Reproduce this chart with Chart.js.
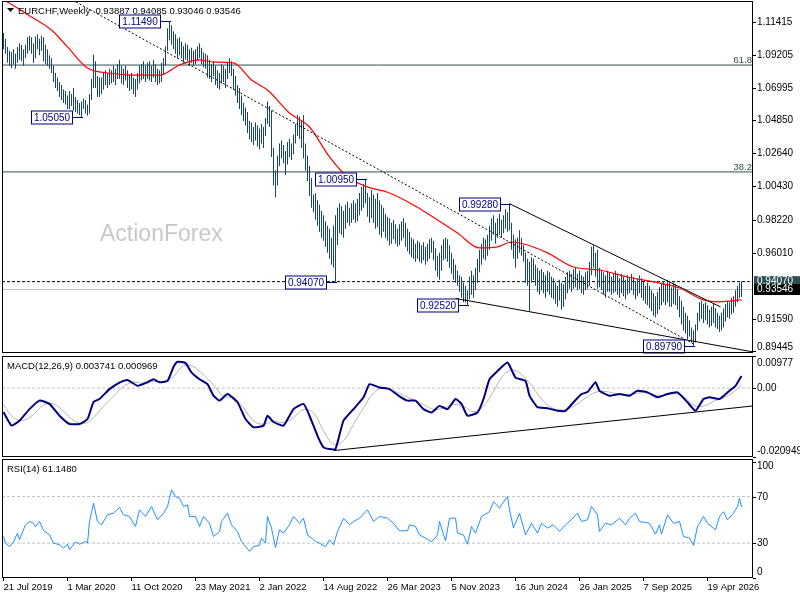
<!DOCTYPE html>
<html>
<head>
<title>EURCHF Weekly</title>
<script src="https://cdn.jsdelivr.net/npm/chart.js"></script>
<style>
  html, body { margin: 0; padding: 0; background: #fff; }
  #wrap { position: relative; width: 800px; height: 600px; overflow: hidden; }
  #wrap canvas { position: absolute; left: 0; }
</style>
</head>
<body>
<div id="wrap">
  <canvas id="priceChart" width="800" height="355" style="top:0px"></canvas>
  <canvas id="macdChart" width="800" height="103" style="top:355px"></canvas>
  <canvas id="rsiChart" width="800" height="142" style="top:458px"></canvas>
</div>
<script>
const FONT = "'Liberation Sans', Arial, sans-serif";

// date labels, one every 32 weekly bars from the first bar
const dateTicks = ['21 Jul 2019', '1 Mar 2020', '11 Oct 2020', '23 May 2021', '2 Jan 2022', '14 Aug 2022',
  '26 Mar 2023', '5 Nov 2023', '16 Jun 2024', '26 Jan 2025', '7 Sep 2025', '19 Apr 2026'];
const tickStep = 32;

// weekly highs / lows, bar 0 = 21 Jul 2019
const highs = [
  1.1068,1.1030,1.0975,1.0950,1.0940,1.0960,1.0930,1.0975,1.1000,1.0990,
  1.0960,1.0990,1.1040,1.1050,1.1040,1.1000,1.1045,1.1060,1.1030,1.1050,
  1.1040,1.0990,1.0960,1.0920,1.0900,1.0850,1.0800,1.0770,1.0740,1.0720,
  1.0690,1.0680,1.0650,1.0680,1.0660,1.0700,1.0640,1.0620,1.0600,1.0610,
  1.0630,1.0620,1.0590,1.0660,1.0760,1.0922,1.0880,1.0780,1.0770,1.0770,
  1.0800,1.0820,1.0800,1.0830,1.0820,1.0850,1.0830,1.0860,1.0890,1.0850,
  1.0830,1.0850,1.0820,1.0790,1.0800,1.0770,1.0760,1.0800,1.0850,1.0860,
  1.0880,1.0850,1.0870,1.0880,1.0850,1.0890,1.0860,1.0830,1.0820,1.0870,
  1.0900,1.0980,1.1100,1.1149,1.1120,1.1080,1.1060,1.1030,1.1040,1.1010,
  1.0980,1.1000,1.0990,1.0960,1.0970,1.0950,1.0960,1.0980,1.1000,1.0970,
  1.0940,1.0930,1.0920,1.0890,1.0860,1.0880,1.0850,1.0820,1.0800,1.0860,
  1.0850,1.0830,1.0870,1.0900,1.0880,1.0830,1.0780,1.0720,1.0700,1.0650,
  1.0600,1.0570,1.0540,1.0480,1.0470,1.0440,1.0470,1.0450,1.0430,1.0460,
  1.0440,1.0500,1.0610,1.0580,1.0550,1.0300,1.0150,1.0250,1.0330,1.0350,
  1.0320,1.0280,1.0340,1.0360,1.0330,1.0390,1.0460,1.0520,1.0510,1.0480,
  1.0521,1.0330,1.0250,1.0180,1.0100,0.9990,1.0000,0.9950,0.9920,0.9880,
  0.9850,0.9810,0.9780,0.9760,0.9700,0.9780,0.9850,0.9900,0.9930,0.9910,
  0.9880,0.9920,0.9940,0.9900,0.9930,0.9950,0.9930,0.9960,1.0000,1.0040,
  1.0060,1.0095,1.0000,0.9970,1.0020,0.9990,0.9960,1.0000,0.9950,0.9920,
  0.9900,0.9860,0.9840,0.9830,0.9800,0.9820,0.9790,0.9760,0.9790,0.9810,
  0.9830,0.9800,0.9760,0.9740,0.9700,0.9690,0.9660,0.9680,0.9670,0.9650,
  0.9670,0.9640,0.9660,0.9690,0.9700,0.9680,0.9630,0.9580,0.9600,0.9650,
  0.9690,0.9700,0.9690,0.9650,0.9600,0.9560,0.9520,0.9480,0.9450,0.9440,
  0.9400,0.9380,0.9350,0.9440,0.9480,0.9450,0.9500,0.9560,0.9620,0.9660,
  0.9700,0.9690,0.9720,0.9780,0.9830,0.9850,0.9800,0.9830,0.9860,0.9820,
  0.9850,0.9890,0.9870,0.9928,0.9800,0.9720,0.9690,0.9700,0.9750,0.9700,
  0.9650,0.9600,0.9560,0.9540,0.9570,0.9560,0.9520,0.9500,0.9480,0.9490,
  0.9470,0.9450,0.9480,0.9470,0.9440,0.9430,0.9400,0.9380,0.9420,0.9400,
  0.9390,0.9440,0.9470,0.9480,0.9460,0.9490,0.9500,0.9460,0.9480,0.9450,
  0.9440,0.9470,0.9480,0.9540,0.9640,0.9650,0.9600,0.9620,0.9500,0.9480,
  0.9470,0.9450,0.9480,0.9470,0.9440,0.9460,0.9480,0.9450,0.9430,0.9460,
  0.9440,0.9420,0.9450,0.9440,0.9460,0.9440,0.9410,0.9430,0.9450,0.9430,
  0.9410,0.9380,0.9400,0.9380,0.9350,0.9330,0.9310,0.9340,0.9370,0.9400,
  0.9410,0.9390,0.9420,0.9400,0.9370,0.9400,0.9390,0.9360,0.9310,0.9280,
  0.9240,0.9200,0.9180,0.9150,0.9100,0.9080,0.9120,0.9200,0.9270,0.9280,
  0.9260,0.9270,0.9250,0.9220,0.9240,0.9260,0.9230,0.9200,0.9180,0.9200,
  0.9230,0.9260,0.9280,0.9270,0.9300,0.9310,0.9350,0.9380,0.9400,0.94085
];
const lows = [
  1.0960,1.0930,1.0870,1.0850,1.0835,1.0860,1.0830,1.0870,1.0890,1.0880,
  1.0850,1.0900,1.0930,1.0950,1.0930,1.0870,1.0900,1.0960,1.0920,1.0950,
  1.0880,1.0860,1.0850,1.0830,1.0800,1.0740,1.0700,1.0680,1.0640,1.0620,
  1.0600,1.0590,1.0560,1.0560,1.0580,1.0550,1.0540,1.0530,1.0520,1.0505,
  1.0560,1.0530,1.0515,1.0530,1.0620,1.0700,1.0700,1.0640,1.0640,1.0660,
  1.0690,1.0720,1.0700,1.0720,1.0730,1.0740,1.0720,1.0760,1.0760,1.0730,
  1.0720,1.0750,1.0700,1.0680,1.0690,1.0660,1.0640,1.0690,1.0730,1.0750,
  1.0760,1.0740,1.0760,1.0750,1.0740,1.0770,1.0740,1.0720,1.0730,1.0740,
  1.0790,1.0850,1.0950,1.1020,1.0990,1.0960,1.0930,1.0900,1.0920,1.0900,
  1.0870,1.0890,1.0880,1.0850,1.0870,1.0850,1.0860,1.0880,1.0900,1.0860,
  1.0840,1.0830,1.0770,1.0760,1.0740,1.0780,1.0720,1.0700,1.0690,1.0730,
  1.0740,1.0700,1.0760,1.0800,1.0780,1.0690,1.0650,1.0600,1.0560,1.0520,
  1.0480,1.0450,1.0400,1.0360,1.0340,1.0320,1.0350,1.0310,1.0290,1.0330,
  1.0300,1.0380,1.0460,1.0440,1.0240,1.0050,0.9971,1.0050,1.0180,1.0230,
  1.0200,1.0120,1.0190,1.0240,1.0220,1.0260,1.0330,1.0380,1.0360,1.0300,
  1.0230,1.0150,1.0080,0.9980,0.9900,0.9870,0.9820,0.9780,0.9740,0.9700,
  0.9680,0.9640,0.9600,0.9560,0.9520,0.9500,0.9407,0.9650,0.9730,0.9720,
  0.9700,0.9760,0.9800,0.9780,0.9800,0.9820,0.9800,0.9810,0.9850,0.9880,
  0.9900,0.9930,0.9840,0.9800,0.9830,0.9800,0.9760,0.9770,0.9720,0.9700,
  0.9740,0.9700,0.9680,0.9650,0.9660,0.9690,0.9660,0.9640,0.9650,0.9680,
  0.9700,0.9640,0.9610,0.9590,0.9570,0.9560,0.9540,0.9560,0.9540,0.9530,
  0.9550,0.9520,0.9540,0.9560,0.9600,0.9550,0.9480,0.9440,0.9420,0.9480,
  0.9550,0.9560,0.9540,0.9500,0.9460,0.9420,0.9400,0.9380,0.9340,0.9300,
  0.9270,0.9270,0.9252,0.9290,0.9320,0.9300,0.9350,0.9400,0.9470,0.9520,
  0.9560,0.9550,0.9580,0.9620,0.9680,0.9720,0.9660,0.9700,0.9720,0.9700,
  0.9730,0.9760,0.9740,0.9750,0.9620,0.9560,0.9500,0.9560,0.9600,0.9580,
  0.9540,0.9400,0.9380,0.9210,0.9400,0.9420,0.9380,0.9340,0.9320,0.9350,
  0.9330,0.9300,0.9340,0.9320,0.9300,0.9290,0.9260,0.9240,0.9280,0.9220,
  0.9240,0.9290,0.9330,0.9360,0.9340,0.9360,0.9370,0.9350,0.9360,0.9330,
  0.9320,0.9350,0.9360,0.9380,0.9450,0.9500,0.9440,0.9360,0.9370,0.9350,
  0.9320,0.9300,0.9340,0.9340,0.9320,0.9330,0.9340,0.9320,0.9300,0.9330,
  0.9310,0.9290,0.9320,0.9330,0.9350,0.9320,0.9290,0.9310,0.9330,0.9300,
  0.9280,0.9260,0.9250,0.9230,0.9210,0.9180,0.9170,0.9190,0.9220,0.9250,
  0.9270,0.9250,0.9270,0.9240,0.9240,0.9260,0.9250,0.9220,0.9170,0.9120,
  0.9080,0.9060,0.9020,0.9040,0.9000,0.8979,0.9000,0.9080,0.9140,0.9160,
  0.9130,0.9150,0.9120,0.9100,0.9110,0.9130,0.9100,0.9090,0.9070,0.9080,
  0.9100,0.9140,0.9170,0.9160,0.9190,0.9200,0.9240,0.9270,0.9300,0.93046
];

// red moving average, [bar, value]
const maPoints = [[0,1.1290],[2,1.1275],[14,1.1175],[24,1.1088],[32,1.0975],[42,1.0834],[52,1.0801],
  [65,1.0787],[78,1.0787],[88,1.0854],[98,1.0888],[105,1.0874],[115,1.0868],[124,1.0754],[132,1.0687],
  [143,1.0534],[153,1.0440],[163,1.0240],[172,1.0106],[182,1.0040],[193,0.9999],[205,0.9919],[217,0.9819],
  [227,0.9732],[238,0.9632],[247,0.9639],[254,0.9672],[262,0.9652],[272,0.9599],[285,0.9505],[298,0.9485],
  [312,0.9438],[325,0.9405],[338,0.9365],[350,0.9285],[358,0.9272],[369,0.9285]];

const macdPoints = [[0,-0.0073],[4,-0.0114],[8,-0.0099],[13,-0.0064],[18,-0.0038],[23,-0.0048],[28,-0.0084],
  [33,-0.0109],[38,-0.0109],[42,-0.0094],[45,-0.0042],[48,-0.0033],[53,-0.0003],[58,0.0017],[62,0.0025],
  [67,0.0007],[72,0.0018],[75,0.0027],[78,0.0018],[82,0.0022],[85,0.0064],[87,0.0080],[91,0.0076],
  [94,0.0048],[98,0.0027],[102,0.0012],[105,-0.0023],[108,-0.0038],[112,-0.0018],[117,-0.0043],
  [121,-0.0094],[125,-0.0119],[130,-0.0114],[132,-0.0084],[135,-0.0103],[140,-0.0114],[145,-0.0064],
  [150,-0.0048],[153,-0.0084],[157,-0.0145],[160,-0.0180],[163,-0.0185],[166,-0.0185],[170,-0.0099],
  [175,-0.0064],[180,-0.0028],[183,0.0012],[188,0.0002],[193,-0.0003],[198,-0.0025],[202,-0.0038],
  [206,-0.0038],[210,-0.0064],[214,-0.0074],[218,-0.0054],[222,-0.0064],[226,-0.0033],[229,-0.0048],
  [232,-0.0084],[237,-0.0074],[240,-0.0033],[243,0.0027],[247,0.0052],[252,0.0078],[256,0.0032],
  [261,0.0022],[263,-0.0023],[267,-0.0058],[272,-0.0061],[277,-0.0069],[281,-0.0069],[285,-0.0043],
  [289,-0.0018],[292,-0.0012],[296,0.0018],[298,-0.0008],[303,-0.0023],[308,-0.0018],[313,-0.0023],
  [317,-0.0008],[322,-0.0013],[327,-0.0028],[332,-0.0018],[337,-0.0013],[342,-0.0043],[346,-0.0069],
  [350,-0.0033],[353,-0.0028],[358,-0.0033],[363,-0.0008],[366,0.0007],[369,0.0037]];

const signalPoints = [[0,-0.0050],[5,-0.0090],[10,-0.0098],[15,-0.0080],[20,-0.0052],[25,-0.0048],[30,-0.0070],
  [35,-0.0098],[40,-0.0108],[45,-0.0090],[50,-0.0055],[55,-0.0025],[60,0.0005],[65,0.0018],[70,0.0015],
  [75,0.0020],[80,0.0021],[85,0.0035],[90,0.0068],[95,0.0065],[100,0.0040],[105,0.0010],[110,-0.0025],
  [115,-0.0030],[120,-0.0060],[125,-0.0100],[130,-0.0110],[135,-0.0100],[140,-0.0105],[145,-0.0090],
  [150,-0.0065],[155,-0.0075],[160,-0.0130],[165,-0.0170],[170,-0.0160],[175,-0.0110],[180,-0.0060],
  [185,-0.0015],[190,0.0002],[195,-0.0008],[200,-0.0022],[205,-0.0035],[210,-0.0050],[215,-0.0065],
  [220,-0.0060],[225,-0.0050],[230,-0.0055],[235,-0.0072],[240,-0.0055],[245,-0.0010],[250,0.0040],
  [255,0.0055],[260,0.0035],[265,0.0000],[270,-0.0040],[275,-0.0062],[280,-0.0066],[285,-0.0055],
  [290,-0.0035],[295,-0.0015],[300,-0.0010],[305,-0.0015],[310,-0.0020],[315,-0.0018],[320,-0.0014],
  [325,-0.0020],[330,-0.0022],[335,-0.0017],[340,-0.0025],[345,-0.0052],[350,-0.0055],[355,-0.0040],
  [360,-0.0030],[365,-0.0012],[369,0.00097]];

const rsiPoints = [[0,35.7],[1,30],[3,27],[5,31],[7,38.6],[8,33],[11,45.7],[13,48.6],[15,47],[16,44],[18,48.6],
  [20,41],[23,37],[25,30],[28,28.6],[30,25.7],[32,29],[33,24.3],[36,31],[38,29],[41,31.4],[42,30],[43,48.6],
  [45,64.3],[47,48.6],[49,45.7],[52,54.3],[55,55.7],[58,60.6],[60,54.3],[63,52.9],[66,44.3],[68,58.6],
  [71,52.9],[74,61.4],[77,50],[80,55.7],[82,61.4],[84,75.7],[86,70],[88,68.6],[90,61.4],[92,62.9],[93,52.9],
  [96,52.9],[98,44.3],[100,52.9],[103,47],[105,35.7],[108,40],[109,48.6],[112,55.7],[114,45.7],[117,40],
  [119,31.4],[123,22.9],[125,27],[128,28],[129,34.3],[131,30],[132,52.9],[134,42.9],[136,26.3],[138,41.4],
  [140,38.6],[143,45.7],[145,52.9],[148,47],[150,51.4],[152,37],[156,31.4],[158,30],[161,27],[163,32.9],
  [165,28.6],[167,40],[170,51.4],[173,45.7],[175,48.6],[178,51.4],[182,58.6],[185,48.6],[188,52.9],
  [192,51.4],[195,47],[198,40.5],[202,40.6],[203,45.7],[206,44.3],[208,37],[211,34.3],[214,31],[217,37],
  [218,48.6],[221,32],[223,51.4],[226,51.4],[227,38.6],[230,37],[232,29],[234,44.3],[236,38.6],[239,52.9],
  [243,57],[245,65.7],[248,60],[249,62.9],[252,70],[253,58.6],[255,42.9],[258,55.7],[261,37],[264,47],
  [267,38.6],[269,47],[272,42.9],[275,45.7],[278,40],[281,45.7],[283,48.6],[287,55.7],[289,48.6],[292,50],
  [294,61.4],[297,54.3],[298,40],[301,47],[304,45.7],[308,51.4],[311,45.7],[313,51.4],[316,55.7],[318,48.6],
  [323,47],[326,37.7],[328,45.7],[329,37.7],[332,54.3],[335,47],[338,48.6],[340,35.7],[343,34.3],[345,28],
  [347,44.3],[350,52.9],[352,47],[356,41.4],[358,52.9],[360,57],[362,50],[365,55.7],[367,61.4],[368,68.6],
  [369,61.1]];

// axis labels
const priceTicks = [1.11415, 1.09205, 1.06995, 1.04850, 1.02640, 1.00430, 0.98220, 0.96010, 0.91590, 0.89445];
const macdTicks = [0.00977, 0.00, -0.020949];
const macdTickText = ['0.00977', '0.00', '-0.020949'];
const rsiTicks = [100, 70, 30, 0];
const rsiLevels = [70, 30];

// levels, swing labels and last values
const fibLevels = [1.0854, 1.0140];
const fibNames = ['61.8', '38.2'];
const swingIdx = [83, 39, 181, 166, 232, 253, 345];
const swingPrice = [1.11490, 1.05050, 1.00950, 0.94070, 0.92520, 0.99280, 0.89790];
const lastOHLC = [0.93887, 0.94085, 0.93046, 0.93546];
const resistance = 0.94070;
const macdLast = [0.003741, 0.000969];
const rsiLast = 61.1480;

// trend lines, [bar, value]
const trendFalling = [[34.5, 1.12885], [345, 0.89906]];
const trendUpper = [[253, 0.99280], [358.5, 0.92380]];
const trendLower = [[226, 0.92950], [375, 0.89370]];
const trendMacd = [[165, -0.0190], [375, -0.0054]];

const xRange = [-0.75, 374.75];
const priceRange = [0.89304, 1.12818];
const macdRange = [-0.020949, 0.00977];
const rsiRange = [0, 102.3];

const pts = arr => arr.map(([x, y]) => ({ x, y }));
const hline = v => [{ x: xRange[0], y: v }, { x: xRange[1], y: v }];

function lineSet(data, color, width, dash) {
  return { type: 'line', data, borderColor: color, borderWidth: width, borderDash: dash || [],
    pointRadius: 0, tension: 0, fill: false };
}

// frame, right hand labels and caption of a panel
const panelFrame = {
  id: 'panelFrame',
  afterDraw(chart, args, o) {
    const { ctx, chartArea: a } = chart;
    const y = chart.scales.y;
    ctx.save();
    ctx.strokeStyle = '#000';
    ctx.lineWidth = 1;
    ctx.strokeRect(a.left + 0.5, a.top + 0.5, a.right - a.left - 1, a.bottom - a.top - 1);
    ctx.font = '10px ' + FONT;
    ctx.fillStyle = '#000';
    ctx.textAlign = 'left';
    ctx.textBaseline = 'middle';
    o.ticks.forEach((v, k) => {
      const py = Math.round(y.getPixelForValue(v)) + 0.5;
      const ty = Math.min(Math.max(py, a.top + 7), a.bottom - 6);
      ctx.beginPath();
      ctx.moveTo(a.right, py);
      ctx.lineTo(a.right + 3, py);
      ctx.stroke();
      ctx.fillText(o.labels[k], a.right + 4, ty);
    });
    ctx.font = '9.5px ' + FONT;
    ctx.textBaseline = 'alphabetic';
    ctx.fillText(o.caption, a.left + o.captionX, a.top + 13);
    if (o.triangle) {
      ctx.beginPath();
      ctx.moveTo(a.left + 5, a.top + 7);
      ctx.lineTo(a.left + 12, a.top + 7);
      ctx.lineTo(a.left + 8.5, a.top + 11);
      ctx.closePath();
      ctx.fill();
    }
    ctx.restore();
  }
};

// watermark, fibo labels, swing boxes and price boxes of the main panel
const priceMarks = {
  id: 'priceMarks',
  beforeDatasetsDraw(chart) {
    const { ctx, chartArea: a } = chart;
    ctx.save();
    ctx.font = '23px ' + FONT;
    ctx.fillStyle = '#c8c8c8';
    ctx.fillText('ActionForex', a.left + 98, a.top + 240);
    ctx.restore();
  },
  afterDatasetsDraw(chart) {
    const { ctx, chartArea: a, scales: { x, y } } = chart;
    ctx.save();
    ctx.font = '9.5px ' + FONT;
    ctx.fillStyle = '#2f4f4f';
    ctx.textAlign = 'right';
    fibLevels.forEach((v, k) => ctx.fillText(fibNames[k], a.right - 1, y.getPixelForValue(v) - 2));
    ctx.font = '10px ' + FONT;
    ctx.textAlign = 'center';
    ctx.textBaseline = 'middle';
    ctx.lineWidth = 1;
    swingIdx.forEach((idx, k) => {
      const bx = Math.round(x.getPixelForValue(idx));
      const by = Math.round(y.getPixelForValue(swingPrice[k])) + 0.5;
      const r = bx - 9, w = 42, h = 13;
      ctx.strokeStyle = '#000080';
      ctx.beginPath();
      ctx.moveTo(r, by);
      ctx.lineTo(bx + 1, by);
      ctx.stroke();
      ctx.fillStyle = '#fff';
      ctx.fillRect(r - w, by - h / 2, w, h);
      ctx.strokeRect(r - w + 0.5, by - h / 2, w - 1, h);
      ctx.fillStyle = '#000080';
      ctx.fillText(swingPrice[k].toFixed(5), r - w / 2, by + 0.5);
    });
    ctx.restore();
  },
  afterDraw(chart) {
    const { ctx, chartArea: a, scales: { y } } = chart;
    ctx.save();
    ctx.font = '10px ' + FONT;
    ctx.textBaseline = 'middle';
    ctx.textAlign = 'left';
    [[resistance, '#2f4f4f'], [lastOHLC[3], '#000']].forEach(([v, bg]) => {
      const py = y.getPixelForValue(v);
      ctx.fillStyle = bg;
      ctx.fillRect(a.right + 1, py - 5.5, 47, 11);
      ctx.fillStyle = '#fff';
      ctx.fillText(v.toFixed(5), a.right + 4, py);
    });
    ctx.restore();
  }
};

function xAxis(show) {
  const axis = {
    type: 'linear', min: xRange[0], max: xRange[1], display: show, offset: false,
    grid: { offset: false, drawOnChartArea: false, drawTicks: true, tickLength: 3, color: '#000' },
    border: { display: false },
    afterBuildTicks: s => { s.ticks = dateTicks.map((t, k) => ({ value: k * tickStep })); },
    ticks: { align: 'start', maxRotation: 0, autoSkip: false, padding: 1, color: '#000',
      font: { family: FONT, size: 9.5 }, callback: v => dateTicks[Math.round(v / tickStep)] }
  };
  if (show) axis.afterFit = s => { s.height = 22; };
  return axis;
}

function baseOptions(yRange, showX, pad, frame) {
  return {
    responsive: false, animation: false, events: [],
    layout: { padding: pad },
    plugins: { legend: { display: false }, tooltip: { enabled: false }, panelFrame: frame },
    scales: { x: xAxis(showX), y: { type: 'linear', min: yRange[0], max: yRange[1], display: false } }
  };
}

new Chart(document.getElementById('priceChart'), {
  type: 'bar',
  data: {
    datasets: [
      lineSet(pts(trendFalling), '#000', 1, [2, 2]),
      lineSet(pts(trendUpper), '#000', 1),
      lineSet(pts(trendLower), '#000', 1),
      Object.assign(lineSet(pts(maPoints), '#ff0000', 1.2), { cubicInterpolationMode: 'monotone' }),
      { type: 'bar', data: highs.map((h, i) => ({ x: i, y: [lows[i], h] })),
        backgroundColor: '#1a4760', barThickness: 1, borderWidth: 0, inflateAmount: 0 },
      lineSet(hline(resistance), '#000', 1, [3, 2]),
      lineSet(hline(lastOHLC[3]), '#c0c0c0', 1),
      ...fibLevels.map(v => lineSet(hline(v), '#2f4f4f', 1))
    ]
  },
  options: baseOptions(priceRange, false, { left: 2, right: 47, top: 1, bottom: 2 }, {
    ticks: priceTicks, labels: priceTicks.map(v => v.toFixed(5)),
    caption: 'EURCHF,Weekly  ' + lastOHLC.map(v => v.toFixed(5)).join(' '), captionX: 16, triangle: true
  }),
  plugins: [panelFrame, priceMarks]
});

new Chart(document.getElementById('macdChart'), {
  type: 'line',
  data: {
    datasets: [
      lineSet(pts(trendMacd), '#000', 1),
      Object.assign(lineSet(pts(macdPoints), '#000080', 2), { tension: 0.15 }),
      Object.assign(lineSet(pts(signalPoints), '#b4b4b4', 1), { tension: 0.4 }),
      lineSet(hline(0), '#c0c0c0', 1, [3, 2])
    ]
  },
  options: baseOptions(macdRange, false, { left: 2, right: 47, top: 1, bottom: 1 }, {
    ticks: macdTicks, labels: macdTickText,
    caption: 'MACD(12,26,9) ' + macdLast.map(v => v.toFixed(6)).join(' '), captionX: 5
  }),
  plugins: [panelFrame]
});

new Chart(document.getElementById('rsiChart'), {
  type: 'line',
  data: {
    datasets: [
      lineSet(pts(rsiPoints), '#1e90ff', 1),
      ...rsiLevels.map(v => lineSet(hline(v), '#c0c0c0', 1, [3, 2]))
    ]
  },
  options: baseOptions(rsiRange, true, { left: 2, right: 47, top: 1, bottom: 0 }, {
    ticks: rsiTicks, labels: rsiTicks.map(String),
    caption: 'RSI(14) ' + rsiLast.toFixed(4), captionX: 5
  }),
  plugins: [panelFrame]
});
</script>
</body>
</html>
